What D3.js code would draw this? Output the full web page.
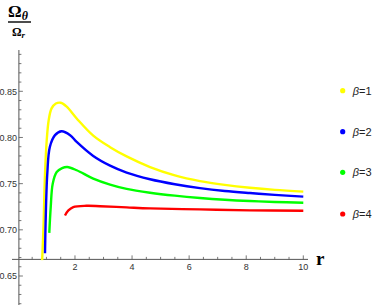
<!DOCTYPE html>
<html>
<head>
<meta charset="utf-8">
<script src="https://cdn.jsdelivr.net/npm/d3@7"></script>
<style>
  body { margin: 0; background: #fff; }
  svg { display: block; }
  .tick-lbl { font-family: "Liberation Sans", Arial, sans-serif; font-size: 9px; fill: #333; }
</style>
</head>
<body>
<div class="chart_box"></div>
<script>
// series: r -> Omega_theta / Omega_r
var beta1_r = [0.85, 0.90, 0.95, 1.01, 1.08, 1.18, 1.33, 1.50, 1.71, 2.06, 2.64, 3.23, 3.81, 4.63, 5.5, 6.38, 7.25, 8.13, 9.0, 10];
var beta1_v = [0.667, 0.7065, 0.761, 0.797, 0.819, 0.8315, 0.8368, 0.8376, 0.8333, 0.8206, 0.802, 0.7895, 0.7795, 0.768, 0.759, 0.7528, 0.7487, 0.7456, 0.7433, 0.7414];

var beta2_r = [0.95, 0.97, 1.03, 1.12, 1.30, 1.53, 1.83, 2.06, 2.64, 3.23, 3.81, 4.63, 5.5, 6.38, 7.25, 8.13, 9.0, 10];
var beta2_v = [0.6746, 0.7065, 0.761, 0.7898, 0.8025, 0.8068, 0.8025, 0.7952, 0.780, 0.7695, 0.762, 0.7548, 0.7494, 0.7452, 0.7421, 0.7398, 0.7378, 0.7359];

var beta3_r = [1.10, 1.15, 1.22, 1.36, 1.55, 1.73, 2.06, 2.64, 3.23, 3.81, 4.63, 5.5, 6.38, 7.25, 8.13, 9.0, 10];
var beta3_v = [0.6967, 0.7246, 0.750, 0.7626, 0.7668, 0.768, 0.7645, 0.7555, 0.749, 0.7443, 0.7402, 0.7370, 0.7345, 0.7326, 0.7312, 0.7302, 0.7293];

var beta4_r = [1.65, 1.77, 1.94, 2.40, 2.88, 3.81, 4.63, 6.38, 8.13, 10];
var beta4_v = [0.7155, 0.721, 0.7246, 0.726, 0.7256, 0.7243, 0.7232, 0.7221, 0.7211, 0.7207];

var legend_labels = ["1", "2", "3", "4"];
var colors = ["#ffff00", "#0000ff", "#00ff00", "#ff0000"];
var x_ticks = [2, 4, 6, 8, 10];
var y_ticks = [0.65, 0.70, 0.75, 0.80, 0.85];

var width = 374, height = 305;

var svg = d3.select(".chart_box").append("svg")
  .attr("width", width)
  .attr("height", height);

var xScale = d3.scaleLinear().domain([0, 10]).range([17.9, 303.3]);
var yScale = d3.scaleLinear().domain([0.65, 0.85]).range([276, 91.3]);

var axisY = 0.668;  // where the r axis crosses
var x0 = xScale(0) + 1;
var yAxisPos = yScale(axisY);

// axis lines
svg.append("line")
  .attr("x1", 12).attr("x2", 308)
  .attr("y1", yAxisPos).attr("y2", yAxisPos)
  .attr("stroke", "#555").attr("stroke-width", 1);
svg.append("line")
  .attr("x1", x0).attr("x2", x0)
  .attr("y1", 50).attr("y2", height)
  .attr("stroke", "#555").attr("stroke-width", 1);

// x ticks (inward, pointing up)
d3.range(0.5, 10.01, 0.5).forEach(function(t) {
  var major = Math.abs(t % 2) < 1e-6;
  svg.append("line")
    .attr("x1", xScale(t)).attr("x2", xScale(t))
    .attr("y1", yAxisPos).attr("y2", yAxisPos - (major ? 4 : 2.5))
    .attr("stroke", "#555").attr("stroke-width", 0.8);
});
svg.selectAll(".xlbl").data(x_ticks).enter().append("text")
  .attr("class", "tick-lbl")
  .attr("x", d => xScale(d))
  .attr("y", yAxisPos + 11)
  .attr("text-anchor", "middle")
  .text(d => d);

// y ticks (pointing right)
d3.range(0.62, 0.895, 0.01).forEach(function(t) {
  var major = Math.abs(Math.round(t * 100) % 5) === 0;
  svg.append("line")
    .attr("x1", x0).attr("x2", x0 + (major ? 4 : 2.5))
    .attr("y1", yScale(t)).attr("y2", yScale(t))
    .attr("stroke", "#555").attr("stroke-width", 0.8);
});
svg.selectAll(".ylbl").data(y_ticks).enter().append("text")
  .attr("class", "tick-lbl")
  .attr("x", x0 - 2)
  .attr("y", d => yScale(d) + 3.2)
  .attr("text-anchor", "end")
  .text(d => d.toFixed(2));

// curves
var series = [
  {r: beta1_r, v: beta1_v},
  {r: beta2_r, v: beta2_v},
  {r: beta3_r, v: beta3_v},
  {r: beta4_r, v: beta4_v}
];

var line = d3.line()
  .x(d => xScale(d[0]))
  .y(d => yScale(d[1]))
  .curve(d3.curveCatmullRom.alpha(0.5));

svg.append("clipPath").attr("id", "clip")
  .append("rect").attr("x", 0).attr("y", 0).attr("width", width).attr("height", yAxisPos + 1);

svg.append("g").attr("clip-path", "url(#clip)")
  .selectAll("path").data(series).enter().append("path")
  .attr("d", s => line(s.r.map((r, i) => [r, s.v[i]])))
  .attr("fill", "none")
  .attr("stroke", (s, i) => colors[i])
  .attr("stroke-width", 2.4)
  .attr("stroke-linejoin", "round");

// axis labels
var title = svg.append("g");
title.append("text")
  .attr("x", 8).attr("y", 17)
  .attr("font-family", "Liberation Serif, serif")
  .attr("font-weight", "bold")
  .attr("font-size", 17)
  .text("\u03A9")
  .append("tspan")
  .attr("font-style", "italic")
  .attr("font-size", 12)
  .attr("dy", 3)
  .text("\u03B8");
title.append("line")
  .attr("x1", 8).attr("x2", 31)
  .attr("y1", 22).attr("y2", 22)
  .attr("stroke", "#000").attr("stroke-width", 1.4);
title.append("text")
  .attr("x", 12).attr("y", 36)
  .attr("font-family", "Liberation Serif, serif")
  .attr("font-weight", "bold")
  .attr("font-size", 12)
  .text("\u03A9")
  .append("tspan")
  .attr("font-style", "italic")
  .attr("font-size", 9)
  .attr("dy", 2)
  .text("r");

svg.append("text")
  .attr("x", 316).attr("y", 265)
  .attr("font-family", "Liberation Serif, serif")
  .attr("font-weight", "bold")
  .attr("font-size", 19)
  .text("r");

// legend
var legendY = [90.7, 131.7, 172.3, 214];
var leg = svg.selectAll(".leg").data(legend_labels).enter().append("g")
  .attr("transform", (d, i) => "translate(342.7," + legendY[i] + ")");
leg.append("circle").attr("r", 2.6).attr("fill", (d, i) => colors[i]);
var lt = leg.append("text")
  .attr("x", 10).attr("y", 4)
  .attr("font-family", "Liberation Sans, Arial, sans-serif")
  .attr("font-size", 11)
  .attr("fill", "#222");
lt.append("tspan").attr("font-style", "italic").text("\u03B2");
lt.append("tspan").text(d => "=" + d);
</script>
</body>
</html>
